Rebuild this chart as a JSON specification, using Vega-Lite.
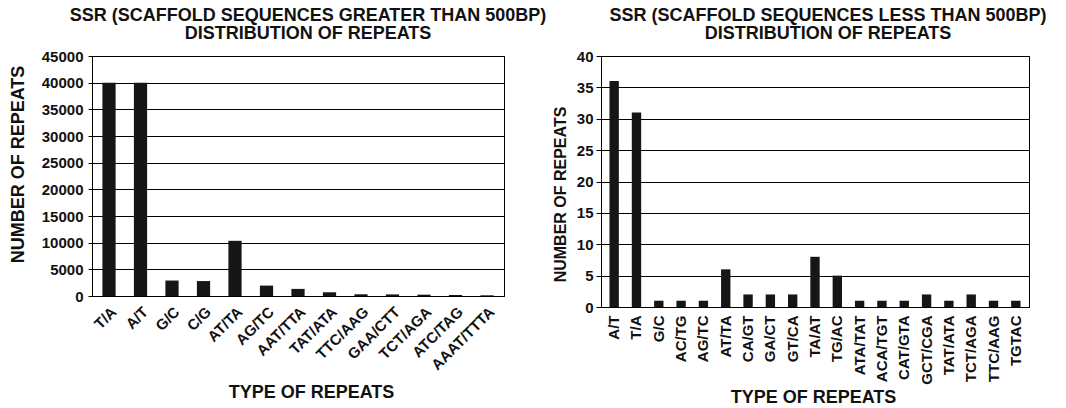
{
  "$schema": "https://vega.github.io/schema/vega-lite/v6.json",
  "padding": {"left": 8, "top": 6, "right": 0, "bottom": 0},
  "spacing": 97,
  "bounds": "flush",
  "background": "white",
  "config": {
    "view": {"stroke": "#000", "strokeWidth": 1},
    "font": "Liberation Sans",
    "axis": {
      "labelFont": "Liberation Sans",
      "labelFontWeight": "bold",
      "labelColor": "#111",
      "titleFont": "Liberation Sans",
      "titleFontWeight": "bold",
      "titleColor": "#111",
      "gridColor": "#000",
      "gridOpacity": 1,
      "gridWidth": 1,
      "domainColor": "#000",
      "tickColor": "#000"
    },
    "title": {"font": "Liberation Sans", "fontWeight": "bold", "fontSize": 18, "color": "#111", "lineHeight": 18.5}
  },
  "hconcat": [
    {
      "width": 412,
      "height": 240,
      "title": {"text": ["SSR (SCAFFOLD SEQUENCES GREATER THAN 500BP)", "DISTRIBUTION OF REPEATS"], "dx": 10, "offset": 6},
      "data": {"values": [
        {"type": "T/A", "count": 40000},
        {"type": "A/T", "count": 40000},
        {"type": "G/C", "count": 2900},
        {"type": "C/G", "count": 2800},
        {"type": "AT/TA", "count": 10350},
        {"type": "AG/TC", "count": 1950},
        {"type": "AAT/TTA", "count": 1330},
        {"type": "TAT/ATA", "count": 700},
        {"type": "TTC/AAG", "count": 320},
        {"type": "GAA/CTT", "count": 300},
        {"type": "TCT/AGA", "count": 250},
        {"type": "ATC/TAG", "count": 190},
        {"type": "AAAT/TTTA", "count": 130}
      ]},
      "mark": {"type": "bar", "color": "#161616"},
      "encoding": {
        "x": {
          "field": "type", "type": "nominal", "sort": null,
          "scale": {"paddingInner": 0.58, "paddingOuter": 0.33},
          "axis": {
            "title": "TYPE OF REPEATS", "labelAngle": -45, "labelFontSize": 15, "ticks": false,
            "labelPadding": 8, "titleFontSize": 18, "titleX": 219, "titleY": 101, "titleBaseline": "alphabetic"
          }
        },
        "y": {
          "field": "count", "type": "quantitative",
          "scale": {"domain": [0, 45000], "nice": false},
          "axis": {
            "values": [0, 5000, 10000, 15000, 20000, 25000, 30000, 35000, 40000, 45000],
            "format": "d", "title": "NUMBER OF REPEATS", "labelFontSize": 15, "tickSize": 4,
            "labelPadding": 5, "titleFontSize": 18, "titlePadding": 14, "titleY": 108, "grid": true
          }
        }
      }
    },
    {
      "width": 428,
      "height": 251,
      "title": {"text": ["SSR (SCAFFOLD SEQUENCES LESS THAN 500BP)", "DISTRIBUTION OF REPEATS"], "dx": 13, "offset": 6},
      "data": {"values": [
        {"type": "A/T", "count": 36},
        {"type": "T/A", "count": 31},
        {"type": "G/C", "count": 1},
        {"type": "AC/TG", "count": 1},
        {"type": "AG/TC", "count": 1},
        {"type": "AT/TA", "count": 6},
        {"type": "CA/GT", "count": 2},
        {"type": "GA/CT", "count": 2},
        {"type": "GT/CA", "count": 2},
        {"type": "TA/AT", "count": 8},
        {"type": "TG/AC", "count": 5},
        {"type": "ATA/TAT", "count": 1},
        {"type": "ACA/TGT", "count": 1},
        {"type": "CAT/GTA", "count": 1},
        {"type": "GCT/CGA", "count": 2},
        {"type": "TAT/ATA", "count": 1},
        {"type": "TCT/AGA", "count": 2},
        {"type": "TTC/AAG", "count": 1},
        {"type": "TGTAC", "count": 1}
      ]},
      "mark": {"type": "bar", "color": "#161616"},
      "encoding": {
        "x": {
          "field": "type", "type": "nominal", "sort": null,
          "scale": {"paddingInner": 0.58, "paddingOuter": 0.38},
          "axis": {
            "title": "TYPE OF REPEATS", "labelAngle": -90, "labelFontSize": 15, "ticks": false,
            "labelPadding": 8, "titleFontSize": 18, "titleX": 212, "titleY": 95, "titleBaseline": "alphabetic"
          }
        },
        "y": {
          "field": "count", "type": "quantitative",
          "scale": {"domain": [0, 40], "nice": false},
          "axis": {
            "values": [0, 5, 10, 15, 20, 25, 30, 35, 40],
            "title": "NUMBER OF REPEATS", "labelFontSize": 15, "tickSize": 5,
            "labelPadding": 3, "titleFontSize": 16, "titlePadding": 8, "titleY": 138, "grid": true
          }
        }
      }
    }
  ]
}
